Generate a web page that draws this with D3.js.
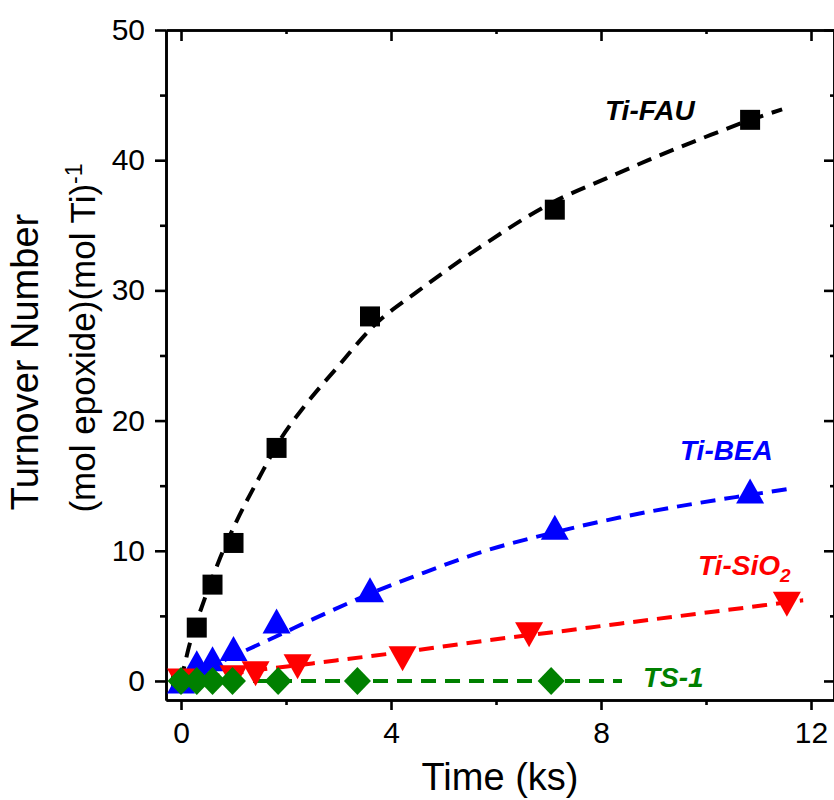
<!DOCTYPE html>
<html>
<head>
<meta charset="utf-8">
<script src="https://cdn.jsdelivr.net/npm/d3@7/dist/d3.min.js"></script>
<style>
  html, body { margin: 0; padding: 0; background: #fff; }
  svg { display: block; }
  text { font-family: "Liberation Sans", Arial, sans-serif; }
</style>
</head>
<body>
<svg id="chart" width="834" height="800"></svg>
<script>
// Turnover number vs. time for Ti-containing catalysts

// Measured points (time in ks, turnover number)
const fauTime = [0, 0.3, 0.6, 1.0, 1.82, 3.6, 7.12, 10.84];
const fauTON  = [0, 4.1, 7.4, 10.6, 17.9, 28.0, 36.2, 43.1];

const beaTime = [0, 0.3, 0.6, 1.0, 1.82, 3.6, 7.12, 10.84];
const beaTON  = [0, 1.4, 1.7, 2.5, 4.6, 7.0, 11.8, 14.6];

const sioTime = [0, 1.0, 1.42, 2.22, 4.22, 6.63, 11.54];
const sioTON  = [0, 0.25, 0.55, 1.1, 1.7, 3.55, 5.9];

const ts1Time = [0, 0.3, 0.6, 0.98, 1.85, 3.36, 7.05];
const ts1TON  = [0, 0, 0, 0, 0, 0, 0];

// Fitted kinetic curves
const fauFitTime = [0, 0.15, 0.45, 0.75, 1.05, 1.5, 1.9, 2.35, 3.0, 3.65, 4.5, 5.8, 7.05, 8.1, 8.9, 10.0, 10.85, 11.45];
const fauFitTON  = [0, 2.6, 6.3, 9.5, 12.2, 15.7, 18.6, 21.1, 24.2, 27.2, 29.9, 33.6, 36.7, 38.6, 40.0, 41.8, 43.1, 43.9];

const beaFitTime = [0, 0.5, 1.1, 1.8, 2.65, 3.6, 4.55, 5.8, 7.1, 8.35, 9.9, 10.85, 11.65];
const beaFitTON  = [0, 1.0, 2.1, 3.4, 5.0, 6.7, 8.2, 10.0, 11.4, 12.55, 13.7, 14.3, 14.8];

const sioFitTime = [0, 1.2, 2.5, 4.55, 5.8, 7.2, 8.35, 10.3, 11.85];
const sioFitTON  = [0, 0.7, 1.35, 2.4, 3.1, 3.8, 4.4, 5.4, 6.2];

const ts1FitTime = [0, 8.4];
const ts1FitTON  = [0, 0];

// Axis ticks
const xMajorTicks = [0, 4, 8, 12];
const xMinorTicks = [2, 6, 10];
const yMajorTicks = [0, 10, 20, 30, 40, 50];
const yMinorTicks = [5, 15, 25, 35, 45];

const zip = (a, b) => a.map((v, i) => [v, b[i]]);

const svg = d3.select("#chart");

const x = d3.scaleLinear().domain([-0.286, 12.438]).range([166, 834]);
const y = d3.scaleLinear().domain([-1.462, 50]).range([700, 30]);

const axisColor = "#000";
const axisWidth = 2.6;

function styleAxis(g) {
  g.selectAll("path.domain").attr("stroke", axisColor).attr("stroke-width", axisWidth);
  g.selectAll(".tick line").attr("stroke", axisColor).attr("stroke-width", axisWidth);
  g.selectAll(".tick text")
    .attr("fill", "#000")
    .style("font-family", "'Liberation Sans', Arial, sans-serif")
    .style("font-size", "30px");
}

// Bottom axis
svg.append("g").attr("transform", "translate(0,700)")
  .call(d3.axisBottom(x).tickValues(xMinorTicks).tickSize(5).tickSizeOuter(0).tickFormat(""))
  .call(styleAxis);
svg.append("g").attr("transform", "translate(0,700)")
  .call(d3.axisBottom(x).tickValues(xMajorTicks).tickSize(10).tickSizeOuter(0).tickPadding(12).tickFormat(d3.format("d")))
  .call(styleAxis);

// Top axis (ticks inward)
svg.append("g").attr("transform", "translate(0,30)")
  .call(d3.axisBottom(x).tickValues(xMinorTicks).tickSize(4).tickSizeOuter(0).tickFormat(""))
  .call(styleAxis);
svg.append("g").attr("transform", "translate(0,30)")
  .call(d3.axisBottom(x).tickValues(xMajorTicks).tickSize(11).tickSizeOuter(0).tickFormat(""))
  .call(styleAxis);

// Left axis
svg.append("g").attr("transform", "translate(166,0)")
  .call(d3.axisLeft(y).tickValues(yMinorTicks).tickSize(6).tickSizeOuter(0).tickFormat(""))
  .call(styleAxis);
svg.append("g").attr("transform", "translate(166,0)")
  .call(d3.axisLeft(y).tickValues(yMajorTicks).tickSize(11).tickSizeOuter(0).tickPadding(10).tickFormat(d3.format("d")))
  .call(styleAxis);

// Right axis (ticks inward)
svg.append("g").attr("transform", "translate(834,0)")
  .call(d3.axisLeft(y).tickValues(yMinorTicks).tickSize(4).tickSizeOuter(0).tickFormat(""))
  .call(styleAxis);
svg.append("g").attr("transform", "translate(834,0)")
  .call(d3.axisLeft(y).tickValues(yMajorTicks).tickSize(10).tickSizeOuter(0).tickFormat(""))
  .call(styleAxis);

// Axis titles
svg.append("text")
  .attr("x", 500).attr("y", 790)
  .attr("text-anchor", "middle")
  .style("font-size", "38px")
  .text("Time (ks)");

svg.append("text")
  .attr("transform", "translate(38,362) rotate(-90)")
  .attr("text-anchor", "middle")
  .style("font-size", "38px")
  .text("Turnover Number");

const yt2 = svg.append("text")
  .attr("transform", "translate(95,338) rotate(-90)")
  .attr("text-anchor", "middle")
  .style("font-size", "35px");
yt2.append("tspan").text("(mol epoxide)(mol Ti)");
yt2.append("tspan").attr("baseline-shift", "super").style("font-size", "23px").text("-1");

// Fit curves
const line = d3.line().x(d => x(d[0])).y(d => y(d[1])).curve(d3.curveMonotoneX);
const fits = [
  { t: fauFitTime, v: fauFitTON, color: "#000000" },
  { t: beaFitTime, v: beaFitTON, color: "#0000ff" },
  { t: sioFitTime, v: sioFitTON, color: "#ff0000" },
  { t: ts1FitTime, v: ts1FitTON, color: "#008000" }
];
fits.forEach(f => {
  svg.append("path")
    .datum(zip(f.t, f.v))
    .attr("d", line)
    .attr("fill", "none")
    .attr("stroke", f.color)
    .attr("stroke-width", 4)
    .attr("stroke-dasharray", "15,9");
});

// Marker shapes, centred on their bounding boxes
const shapes = {
  square: "M-10,-10H10V10H-10Z",
  up: "M0,-12.5L14,12.5L-14,12.5Z",
  down: "M0,12.5L14,-12.5L-14,-12.5Z",
  diamond: "M0,-14L13.5,0L0,14L-13.5,0Z"
};

const series = [
  { t: fauTime, v: fauTON, color: "#000000", shape: "square" },
  { t: beaTime, v: beaTON, color: "#0000ff", shape: "up" },
  { t: sioTime, v: sioTON, color: "#ff0000", shape: "down" },
  { t: ts1Time, v: ts1TON, color: "#008000", shape: "diamond" }
];
series.forEach(s => {
  svg.append("g").selectAll("path")
    .data(zip(s.t, s.v))
    .join("path")
    .attr("transform", d => `translate(${x(d[0])},${y(d[1])})`)
    .attr("d", shapes[s.shape])
    .attr("fill", s.color);
});

// Series labels
const lab = (px, py, color, txt) => svg.append("text")
  .attr("x", px).attr("y", py)
  .attr("fill", color)
  .style("font-size", "28px")
  .style("font-weight", "bold")
  .style("font-style", "italic")
  .text(txt);

lab(605, 120, "#000000", "Ti-FAU");
lab(680, 460, "#0000ff", "Ti-BEA");
const sl = lab(698, 575, "#ff0000", "Ti-SiO");
sl.append("tspan").attr("dy", 7).style("font-size", "19px").text("2");
lab(643, 687, "#008000", "TS-1");
</script>
</body>
</html>
